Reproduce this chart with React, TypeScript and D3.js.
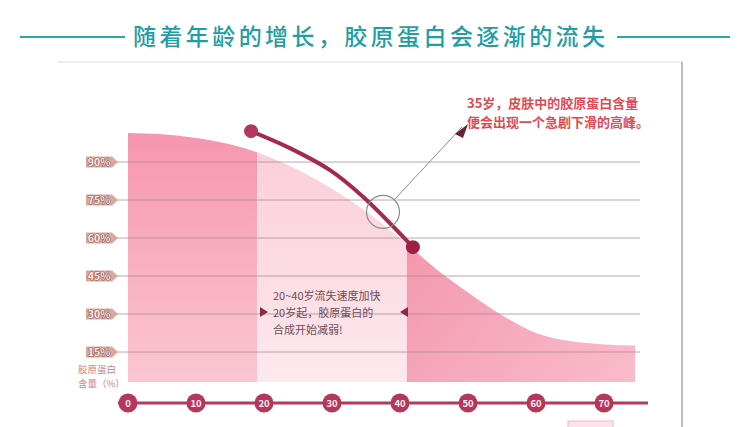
import React from "react";
import * as d3 from "d3";

const title = "随着年龄的增长，胶原蛋白会逐渐的流失";
const ageTicks = [0, 10, 20, 30, 40, 50, 60, 70];
const pctTicks = [90, 75, 60, 45, 30, 15];
const curveAges = [0, 5, 10, 15, 20, 25, 30, 35, 40, 45, 50, 55, 60, 65, 70, 74.6];
const curveValues = [101.5, 101, 99.5, 97, 92.8, 86.9, 79.5, 70.5, 60, 48.5, 38.5, 29.5, 22.5, 19.3, 18, 17.6];
const peakAges = [18.1, 23.8, 29.7, 34.6, 41.9];
const peakValues = [102.2, 95.5, 86.8, 76.2, 56.4];
const bandAges = [0, 19, 41, 74.6];
const focusPoint = { age: 37.5, value: 70.3 };
const noteTop = ["35岁，皮肤中的胶原蛋白含量", "便会出现一个急剧下滑的高峰。"];
const noteMid = ["20~40岁流失速度加快", "20岁起，胶原蛋白的", "合成开始减弱!"];
const yLabel = ["胶原蛋白", "含量（%）"];

const FONT = "'Noto Sans CJK SC', 'Noto Sans', sans-serif";

export default function App() {
  const W = 742, H = 427;
  const x = d3.scaleLinear().domain([0, 70]).range([128, 604]);
  const y = d3.scaleLinear().domain([0, 100]).range([390, 136.7]);
  const base = 382;

  const pts = curveAges.map((a, i) => [a, curveValues[i]] as [number, number]);
  const area = d3
    .area<[number, number]>()
    .x((d) => x(d[0]))
    .y0(base)
    .y1((d) => y(d[1]))
    .curve(d3.curveMonotoneX)(pts) as string;

  const peakPts = peakAges.map((a, i) => [a, peakValues[i]] as [number, number]);
  const peakLine = d3
    .line<[number, number]>()
    .x((d) => x(d[0]))
    .y((d) => y(d[1]))
    .curve(d3.curveCatmullRom)(peakPts) as string;

  const fx = x(focusPoint.age), fy = y(focusPoint.value);
  const fr = 16.5;
  const ax2 = 462, ay2 = 127;
  const ang = Math.atan2(ay2 - fy, ax2 - fx);
  const ax1 = fx + Math.cos(ang) * fr, ay1 = fy + Math.sin(ang) * fr;

  const bandFills = ["url(#g1)", "url(#g2)", "url(#g3)"];

  const p0 = peakPts[0], pN = peakPts[peakPts.length - 1];

  return (
    <svg width={W} height={H} style={{ position: "absolute", left: 0, top: 0, fontFamily: FONT }}>
      <defs>
        <linearGradient id="g1" x1="0" y1="0" x2="0" y2="1">
          <stop offset="0" stopColor="#f693ad" />
          <stop offset="1" stopColor="#fbc6d2" />
        </linearGradient>
        <linearGradient id="g2" x1="0" y1="0" x2="0" y2="1">
          <stop offset="0" stopColor="#fbcbd6" />
          <stop offset="1" stopColor="#fde9ee" />
        </linearGradient>
        <linearGradient id="g3" x1="0" y1="0" x2="1" y2="1">
          <stop offset="0" stopColor="#f28ca7" />
          <stop offset="1" stopColor="#f9bccb" />
        </linearGradient>
        <clipPath id="areaClip">
          <path d={area} />
        </clipPath>
      </defs>
      <rect width={W} height={H} fill="#fff" />

      {/* title */}
      <line x1={20} x2={125} y1={37} y2={37} stroke="#2aa8ab" strokeWidth={2} />
      <line x1={617} x2={730} y1={37} y2={37} stroke="#2aa8ab" strokeWidth={2} />
      <text x={133} y={45} fontSize={23} fill="#1f9fa5" textLength={472} lengthAdjust="spacing" fontWeight={500}>
        {title}
      </text>

      {/* frame */}
      <line x1={58} x2={682} y1={62} y2={62} stroke="#dadada" strokeWidth={1} />
      <line x1={682} x2={682} y1={62} y2={427} stroke="#a9a9a9" strokeWidth={1.5} />

      {/* area bands */}
      <g clipPath="url(#areaClip)">
        {bandAges.slice(0, -1).map((a, i) => (
          <rect key={i} x={x(a)} width={x(bandAges[i + 1]) - x(a)} y={120} height={base - 120} fill={bandFills[i]} />
        ))}
      </g>

      {/* gridlines */}
      {pctTicks.map((p) => (
        <g key={p}>
          <line x1={117} x2={640} y1={y(p)} y2={y(p)} stroke="#a98a8a" strokeOpacity={0.75} strokeWidth={1} />
          <path
            d={`M86,${y(p) - 5.5} L112,${y(p) - 5.5} L118,${y(p)} L112,${y(p) + 5.5} L86,${y(p) + 5.5} Z`}
            fill="#d9aa9c"
          />
          <text
            x={99}
            y={y(p) + 4}
            fontSize={10.5}
            fontWeight={700}
            textAnchor="middle"
            fill="#fbeee8"
            stroke="#9a564c"
            strokeWidth={1.2}
            paintOrder="stroke"
          >
            {p}%
          </text>
        </g>
      ))}

      {/* y label */}
      {yLabel.map((t, i) => (
        <text key={i} x={78} y={373 + i * 14} fontSize={9.5} fill="#c88484">
          {t}
        </text>
      ))}

      {/* middle note */}
      {noteMid.map((t, i) => (
        <text key={i} x={273} y={300 + i * 17} fontSize={11} fill="#6b4c58">
          {t}
        </text>
      ))}
      <path d="M260,307 L268,312 L260,317 Z" fill="#8c2a46" />
      <path d="M408,307 L400,312 L408,317 Z" fill="#8c2a46" />

      {/* peak curve */}
      <path d={peakLine} fill="none" stroke="#a32a4d" strokeWidth={4} strokeLinecap="round" />
      <circle cx={x(p0[0])} cy={y(p0[1])} r={7} fill="#b3375c" />
      <circle cx={x(pN[0])} cy={y(pN[1])} r={7} fill="#9e1f3f" />

      {/* focus annotation */}
      <circle cx={fx} cy={fy} r={fr} fill="none" stroke="#8a8a8a" strokeWidth={1.2} />
      <line x1={ax1} y1={ay1} x2={ax2} y2={ay2} stroke="#8a8a8a" strokeWidth={1} />
      <path d={`M455,134 L468,124 L463,138 Z`} fill="#6b2038" />
      {noteTop.map((t, i) => (
        <text key={i} x={467} y={108 + i * 19} fontSize={13} fontWeight={700} fill="#e04a52">
          {t}
        </text>
      ))}

      {/* x axis */}
      <line x1={118} x2={648} y1={403} y2={403} stroke="#b23a5a" strokeWidth={3} />
      {ageTicks.map((a) => (
        <g key={a}>
          <circle cx={x(a)} cy={403} r={9.5} fill="#b5375a" />
          <text x={x(a)} y={406.5} fontSize={9.5} textAnchor="middle" fill="#fdeef2" fontWeight={700}>
            {a}
          </text>
        </g>
      ))}
      <rect x={568} y={421} width={45} height={8} fill="#fde3e9" stroke="#f2b7c4" strokeWidth={1} />
    </svg>
  );
}
